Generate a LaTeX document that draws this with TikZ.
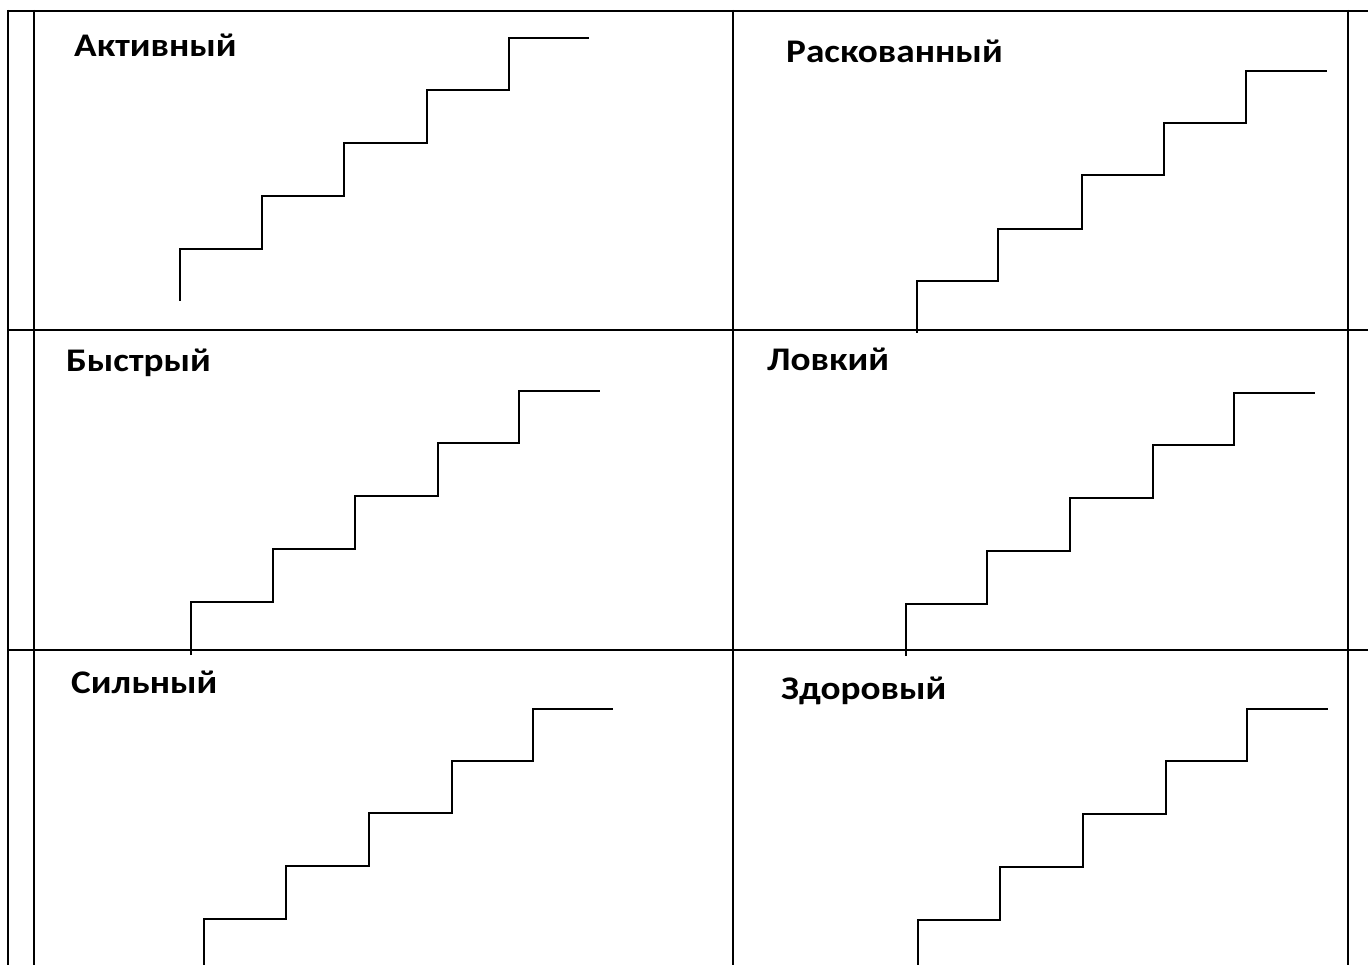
\documentclass[tikz,border=0pt]{standalone}
\usepackage{fontspec}
\setmainfont{Carlito}
\newfontfamily\lblfont[FakeStretch=1.13]{Carlito}
\begin{document}
\begin{tikzpicture}[x=1pt,y=-1pt,
  gridline/.style={line width=2.2pt},
  stair/.style={line width=1.7pt, line join=miter},
  lbl/.style={anchor=base west, inner sep=0pt, font=\lblfont\fontsize{33}{40}\selectfont\bfseries}]
\useasboundingbox (0,0) rectangle (1368,965);
\fill[white] (0,0) rectangle (1368,965);
% table
\draw[gridline] (8,11) -- (1368,11);
\draw[gridline] (8,330) -- (1368,330);
\draw[gridline] (8,650) -- (1368,650);
\draw[gridline] (8,10) -- (8,965);
\draw[gridline] (34,10) -- (34,965);
\draw[gridline] (733,10) -- (733,965);
\draw[gridline] (1348,10) -- (1348,965);
% stairs
\draw[stair] (180,301) -- (180,249) -- (262,249) -- (262,196) -- (344,196) -- (344,143) -- (427,143) -- (427,90) -- (509,90) -- (509,38) -- (589,38);
\draw[stair] (917,333) -- (917,281) -- (998,281) -- (998,229) -- (1082,229) -- (1082,175) -- (1164,175) -- (1164,123) -- (1246,123) -- (1246,71) -- (1327,71);
\draw[stair] (191,655) -- (191,602) -- (273,602) -- (273,549) -- (355,549) -- (355,496) -- (438,496) -- (438,443) -- (519,443) -- (519,391) -- (600,391);
\draw[stair] (906,656) -- (906,604) -- (987,604) -- (987,551) -- (1070,551) -- (1070,498) -- (1153,498) -- (1153,445) -- (1234,445) -- (1234,393) -- (1315,393);
\draw[stair] (204,965) -- (204,919) -- (286,919) -- (286,866) -- (369,866) -- (369,813) -- (452,813) -- (452,761) -- (533,761) -- (533,709) -- (613,709);
\draw[stair] (918,965) -- (918,920) -- (1000,920) -- (1000,867) -- (1083,867) -- (1083,814) -- (1166,814) -- (1166,761) -- (1247,761) -- (1247,709) -- (1328,709);
% labels
\node[lbl] (l1) at (74,57) {Активный};
\node[lbl] (l2) at (786,63) {Раскованный};
\node[lbl] (l3) at (66,372) {Быстрый};
\node[lbl] (l4) at (767,371) {Ловкий};
\node[lbl] (l5) at (71,693) {Сильный};
\node[lbl] (l6) at (781,699) {Здоровый};
\end{tikzpicture}
\end{document}
